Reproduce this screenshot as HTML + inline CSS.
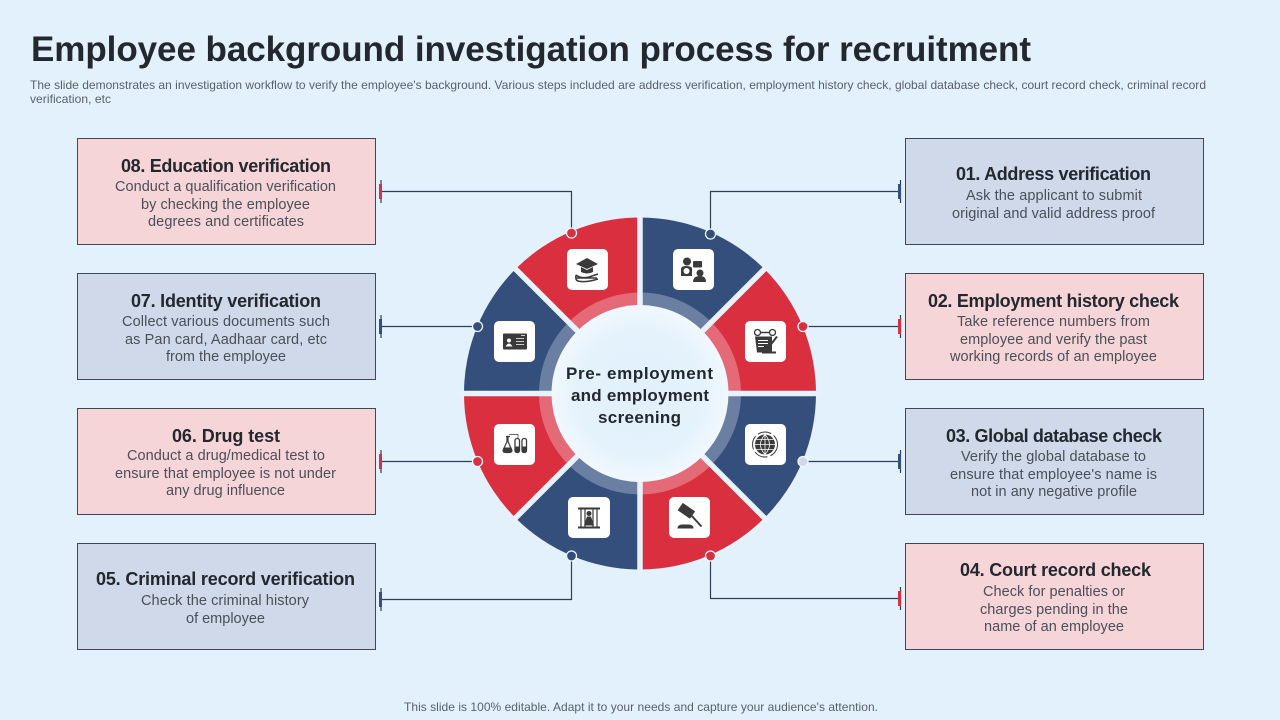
<!DOCTYPE html>
<html><head><meta charset="utf-8"><style>
html,body{margin:0;padding:0;background:#e3f1fc;width:1280px;height:720px;overflow:hidden}
svg{display:block}
text{font-family:"Liberation Sans",sans-serif}
.h{font-size:18px;font-weight:bold;fill:#23272e}
.b{font-size:14.5px;fill:#4a4f58}
.c{font-size:17px;font-weight:bold;fill:#23272e}
.s{font-size:12px;fill:#5a6068}
.box{stroke:#3d4858;stroke-width:1}
.red{fill:#f6d5d9}.blue{fill:#cfd9e9}
.ln{stroke:#2f3f55;stroke-width:1.2;fill:none}
.i{fill:#3a3a3a}
.il{stroke:#3a3a3a;fill:none}
</style></head><body>
<svg width="1280" height="720" viewBox="0 0 1280 720" xmlns="http://www.w3.org/2000/svg">
<defs>
<radialGradient id="g"><stop offset="0" stop-color="#e2f0fc"/><stop offset=".7" stop-color="#e4f2fc"/><stop offset="1" stop-color="#f1f8fe"/></radialGradient>
<path id="o" d="M0-176A176 176 0 0 1 124.45-124.45L62.2-62.2A88 88 0 0 0 0-88Z"/>
<path id="l" d="M0-101A101 101 0 0 1 71.4-71.4L62.2-62.2A88 88 0 0 0 0-88Z"/>
</defs>
<rect width="1280" height="720" fill="#e3f1fc"/>
<text x="31" y="61" font-size="35" font-weight="bold" fill="#23272e" textLength="1000" lengthAdjust="spacing">Employee background investigation process for recruitment</text>
<text class="s" x="30" y="89" textLength="1176" lengthAdjust="spacing">The slide demonstrates an investigation workflow to verify the employee's background. Various steps included are address verification, employment history check, global database check, court record check, criminal record</text>
<text class="s" x="30" y="103" textLength="81" lengthAdjust="spacing">verification, etc</text>

<!-- boxes -->
<rect class="box red" x="77.5" y="138.5" width="298" height="106"/>
<rect class="box blue" x="77.5" y="273.5" width="298" height="106"/>
<rect class="box red" x="77.5" y="408.5" width="298" height="106"/>
<rect class="box blue" x="77.5" y="543.5" width="298" height="106"/>
<rect class="box blue" x="905.5" y="138.5" width="298" height="106"/>
<rect class="box red" x="905.5" y="273.5" width="298" height="106"/>
<rect class="box blue" x="905.5" y="408.5" width="298" height="106"/>
<rect class="box red" x="905.5" y="543.5" width="298" height="106"/>

<!-- connectors -->
<path class="ln" d="M381 191.500H571.500V233M381 326.500H477M381 461.500H477M381 599.500H571.500V556M710.500 234V191.500H900M803 326.500H900M803 461.500H900M710.500 556V598.500H900"/>
<g stroke="#2f3f55" stroke-width="1.200">
<path d="M381 180V203M381 315V338M381 450V473M381 588V611M900.500 180V203M900.500 315V338M900.500 450V473M900.500 587V610"/>
</g>
<rect x="379" y="184" width="3" height="15" fill="#d9303f"/>
<rect x="379" y="319" width="3" height="15" fill="#34507c"/>
<rect x="379" y="454" width="3" height="15" fill="#d9303f"/>
<rect x="379" y="592" width="3" height="15" fill="#34507c"/>
<rect x="898" y="184" width="3" height="15" fill="#34507c"/>
<rect x="898" y="319" width="3" height="15" fill="#d9303f"/>
<rect x="898" y="454" width="3" height="15" fill="#34507c"/>
<rect x="898" y="591" width="3" height="15" fill="#d9303f"/>

<!-- ring -->
<g transform="translate(640 393.500)">
<g fill="#344f7c">
<use href="#o"/><use href="#o" transform="rotate(90)"/><use href="#o" transform="rotate(180)"/><use href="#o" transform="rotate(270)"/>
</g>
<g fill="#d92f3e">
<use href="#o" transform="rotate(45)"/><use href="#o" transform="rotate(135)"/><use href="#o" transform="rotate(225)"/><use href="#o" transform="rotate(315)"/>
</g>
<g fill="#6b7fa3">
<use href="#l"/><use href="#l" transform="rotate(90)"/><use href="#l" transform="rotate(180)"/><use href="#l" transform="rotate(270)"/>
</g>
<g fill="#e56a77">
<use href="#l" transform="rotate(45)"/><use href="#l" transform="rotate(135)"/><use href="#l" transform="rotate(225)"/><use href="#l" transform="rotate(315)"/>
</g>
<g stroke="#e6f2fc" stroke-width="5.500">
<path d="M0-182V182M-182 0H182M-128.700-128.700L128.700 128.700M-128.700 128.700L128.700-128.700"/>
</g>
<circle r="88.500" fill="url(#g)"/>
</g>

<!-- dots -->
<g stroke="#eef6fd" stroke-width="1.300">
<circle cx="710.500" cy="234" r="5" fill="#344f7c"/>
<circle cx="803" cy="326.500" r="5" fill="#d92f3e"/>
<circle cx="803" cy="461.500" r="5" fill="#cfd9e9"/>
<circle cx="710.500" cy="556" r="5" fill="#d92f3e"/>
<circle cx="571.500" cy="556" r="5" fill="#344f7c"/>
<circle cx="477.500" cy="461.500" r="5" fill="#d92f3e"/>
<circle cx="477.500" cy="326.500" r="5" fill="#344f7c"/>
<circle cx="571.500" cy="233" r="5" fill="#d92f3e"/>
</g>

<!-- icon tiles -->
<g fill="#fff">
<rect x="567" y="249" width="41" height="41" rx="5"/>
<rect x="494" y="321" width="41" height="41" rx="5"/>
<rect x="673" y="249" width="41" height="41" rx="5"/>
<rect x="745" y="321" width="41" height="41" rx="5"/>
<rect x="745" y="424" width="41" height="41" rx="5"/>
<rect x="669" y="497" width="41" height="41" rx="5"/>
<rect x="568" y="497" width="42" height="41" rx="5"/>
<rect x="494" y="424" width="41" height="41" rx="5"/>
</g>

<!-- education -->
<g transform="translate(587 270)">
<path class="i" d="M-11-6L0-12L11-6L0-1Z"/><path class="i" d="M-6-3V2Q0 5 6 2V-3L0 0Z"/>
<path class="il" stroke-width="1.500" d="M-11 5Q-6 9 2 7L11 4M-11 5Q-12 10-9 11Q-2 13 11 9M-11 8H10"/>
</g>
<!-- id card -->
<g transform="translate(515 341.500)">
<rect class="i" x="-12" y="-8" width="24" height="16" rx="1"/>
<circle cx="-6" cy="-1" r="2" fill="#fff"/><path d="M-9.500 5Q-6-1-2.500 5Z" fill="#fff"/>
<path d="M1-3H9M1 0H9M1 3H9M6-6H10" stroke="#fff" stroke-width=".8"/>
</g>
<!-- person -->
<g transform="translate(693 270)">
<circle class="i" cx="-6" cy="-8.500" r="4"/>
<path class="i" d="M-12 6V-1Q-12-4-7-4Q0-4-1 0L-1 6Z"/>
<circle cx="-6.500" cy="1" r="3" fill="#fff"/>
<rect class="i" x="0" y="-9" width="9" height="6.500" rx="1"/>
<circle class="i" cx="7" cy="3" r="3.500"/>
<path class="i" d="M0 12Q0 6 7 6Q13 6 13 12Z"/>
</g>
<!-- contract -->
<g transform="translate(765 341.500)">
<circle class="il" cx="-7.500" cy="-9" r="3" stroke-width="1.300"/>
<circle class="il" cx="7.500" cy="-9" r="3" stroke-width="1.300"/>
<path class="il" stroke-width="1.500" d="M-4-9H4"/>
<path class="i" d="M-10-5H7V11H-8Z"/>
<path d="M-7-1H3M-7 2H3M-7 5H-1" stroke="#fff" stroke-width="1"/>
<path d="M2 8L12-5" stroke="#3a3a3a" stroke-width="2"/>
<rect class="i" x="-3" y="10" width="14" height="2"/>
</g>
<!-- globe -->
<g transform="translate(765 444.500)">
<circle class="i" r="10"/>
<path d="M-10 0H10M0-10V10M-8.500-5H8.500M-8.500 5H8.500M0-10Q-9 0 0 10M0-10Q9 0 0 10" stroke="#fff" stroke-width=".8" fill="none"/>
<circle class="il" r="12.500" stroke-width="1" stroke-dasharray="14 3"/>
</g>
<!-- gavel -->
<g transform="translate(689.500 517.500)">
<g transform="rotate(35 -3 -6)"><rect class="i" x="-11" y="-11" width="15" height="9"/></g>
<path d="M0-4L12 9" stroke="#3a3a3a" stroke-width="2"/>
<path class="i" d="M-12 11Q-12 7-7 7H-1Q4 7 4 11Z"/>
</g>
<!-- jail -->
<g transform="translate(589 517.500)">
<rect class="i" x="-11" y="-10" width="22" height="2"/>
<rect class="i" x="-11" y="9" width="22" height="2"/>
<path d="M-8-8V9M-4-8V9M4-8V9M8-8V9" stroke="#3a3a3a" stroke-width="1.200"/>
<circle class="i" cx="0" cy="-4" r="2.500"/>
<path class="i" d="M-5 8L-2-1H2L5 8Z"/>
</g>
<!-- lab -->
<g transform="translate(515 444.500)">
<path class="il" stroke-width="1.200" d="M-8-8V-3L-12 6Q-12 8-9 8H-6Q-3 8-3 6L-7-3V-8M-9-8H-5"/>
<path class="i" d="M-11.500 3H-3.500L-3 6Q-3 8-6 8H-9Q-12 8-12 6Z"/>
<rect class="il" stroke-width="1.300" x="0" y="-6" width="4.500" height="14" rx="2"/>
<rect class="il" stroke-width="1.300" x="7" y="-6" width="4.500" height="14" rx="2"/>
<path class="i" d="M0 2H4.500V6Q2 10 0 6ZM7 2H11.500V6Q9 10 7 6Z"/>
<path class="il" stroke-width=".7" d="M-6-10H3V-6"/>
</g>

<!-- centre -->
<text class="c" x="566" y="379" textLength="147" lengthAdjust="spacing">Pre- employment</text>
<text class="c" x="571" y="401" textLength="138" lengthAdjust="spacing">and employment</text>
<text class="c" x="598" y="423" textLength="83" lengthAdjust="spacing">screening</text>

<!-- left text -->
<text class="h" x="121" y="172" textLength="210" lengthAdjust="spacing">08. Education verification</text>
<text class="b" x="115" y="191" textLength="221" lengthAdjust="spacing">Conduct a qualification verification</text>
<text class="b" x="141" y="209" textLength="169" lengthAdjust="spacing">by checking the employee</text>
<text class="b" x="148" y="226" textLength="156" lengthAdjust="spacing">degrees and certificates</text>

<text class="h" x="131" y="307" textLength="190" lengthAdjust="spacing">07. Identity verification</text>
<text class="b" x="122" y="326" textLength="208" lengthAdjust="spacing">Collect various documents such</text>
<text class="b" x="125" y="344" textLength="202" lengthAdjust="spacing">as Pan card, Aadhaar card, etc</text>
<text class="b" x="166" y="361" textLength="120" lengthAdjust="spacing">from the employee</text>

<text class="h" x="172" y="442" textLength="108" lengthAdjust="spacing">06. Drug test</text>
<text class="b" x="127" y="460" textLength="198" lengthAdjust="spacing">Conduct a drug/medical test to</text>
<text class="b" x="115" y="478" textLength="221" lengthAdjust="spacing">ensure that employee is not under</text>
<text class="b" x="166" y="495" textLength="119" lengthAdjust="spacing">any drug influence</text>

<text class="h" x="96" y="585" textLength="259" lengthAdjust="spacing">05. Criminal record verification</text>
<text class="b" x="141" y="605" textLength="168" lengthAdjust="spacing">Check the criminal history</text>
<text class="b" x="186" y="623" textLength="79" lengthAdjust="spacing">of employee</text>

<!-- right text -->
<text class="h" x="956" y="180" textLength="195" lengthAdjust="spacing">01. Address verification</text>
<text class="b" x="966" y="200" textLength="176" lengthAdjust="spacing">Ask the applicant to submit</text>
<text class="b" x="952" y="218" textLength="203" lengthAdjust="spacing">original and valid address proof</text>

<text class="h" x="928" y="307" textLength="251" lengthAdjust="spacing">02. Employment history check</text>
<text class="b" x="957" y="326" textLength="193" lengthAdjust="spacing">Take reference numbers from</text>
<text class="b" x="960" y="344" textLength="187" lengthAdjust="spacing">employee and verify the past</text>
<text class="b" x="950" y="361" textLength="207" lengthAdjust="spacing">working records of an employee</text>

<text class="h" x="946" y="442" textLength="216" lengthAdjust="spacing">03. Global database check</text>
<text class="b" x="961" y="461" textLength="185" lengthAdjust="spacing">Verify the global database to</text>
<text class="b" x="950" y="479" textLength="207" lengthAdjust="spacing">ensure that employee's name is</text>
<text class="b" x="971" y="496" textLength="166" lengthAdjust="spacing">not in any negative profile</text>

<text class="h" x="960" y="576" textLength="191" lengthAdjust="spacing">04. Court record check</text>
<text class="b" x="983" y="596" textLength="142" lengthAdjust="spacing">Check for penalties or</text>
<text class="b" x="980" y="614" textLength="148" lengthAdjust="spacing">charges pending in the</text>
<text class="b" x="984" y="631" textLength="140" lengthAdjust="spacing">name of an employee</text>

<text class="s" x="404" y="711" textLength="474" lengthAdjust="spacing">This slide is 100% editable. Adapt it to your needs and capture your audience's attention.</text>
</svg>
</body></html>
